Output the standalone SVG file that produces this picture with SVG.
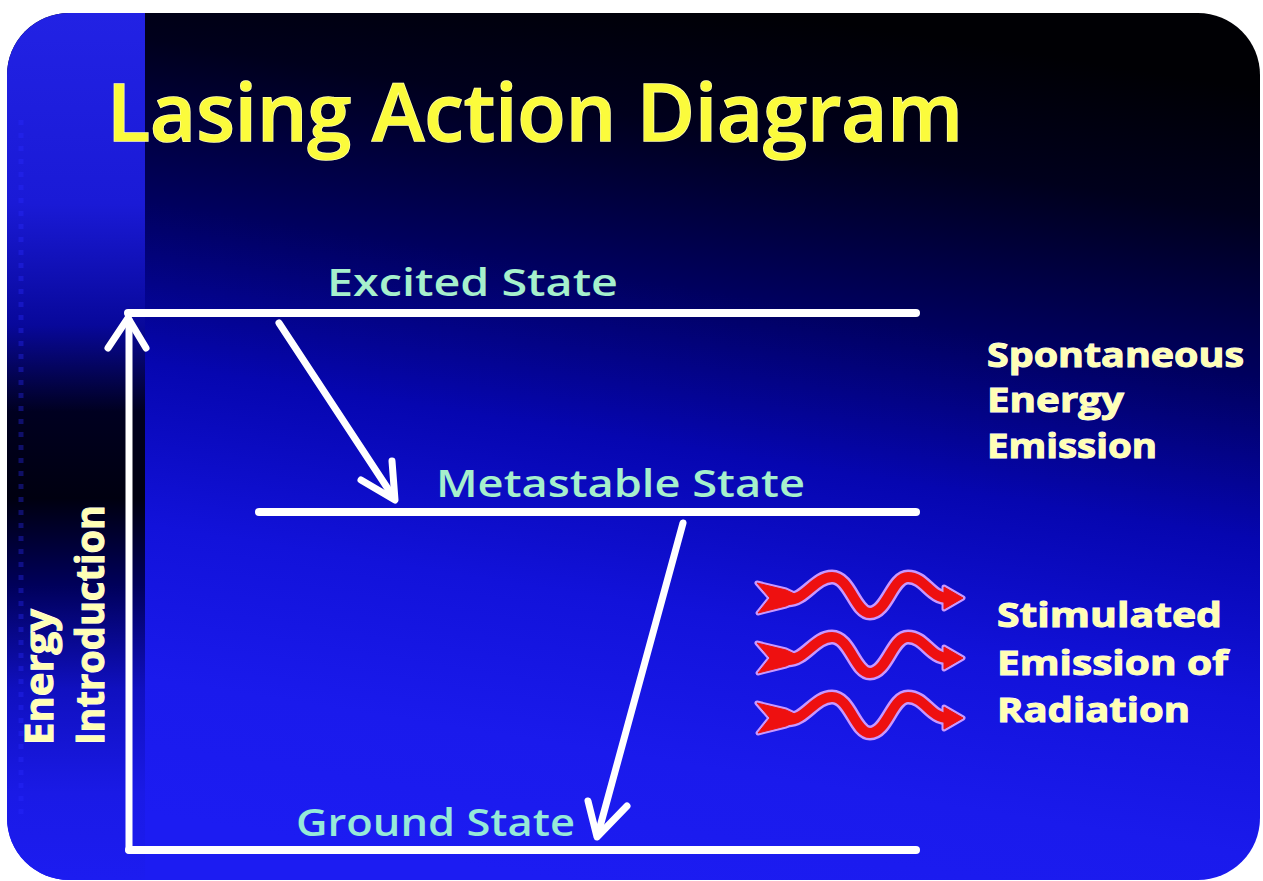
<svg xmlns="http://www.w3.org/2000/svg" width="1263" height="881" viewBox="0 0 1263 881">
  <defs>
    <clipPath id="card">
      <rect x="7" y="13" width="1253" height="867" rx="62" ry="62"/>
    </clipPath>
    <linearGradient id="mainBg" gradientUnits="userSpaceOnUse" x1="700" y1="0" x2="560" y2="880">
      <stop offset="0" stop-color="#000004"/>
      <stop offset="0.14" stop-color="#00001c"/>
      <stop offset="0.32" stop-color="#00005e"/>
      <stop offset="0.5" stop-color="#0606b0"/>
      <stop offset="0.68" stop-color="#1212da"/>
      <stop offset="0.85" stop-color="#1a1aec"/>
      <stop offset="1" stop-color="#1c1cf2"/>
    </linearGradient>
    <linearGradient id="stripBg" gradientUnits="userSpaceOnUse" x1="0" y1="13" x2="0" y2="880">
      <stop offset="0" stop-color="#2222e4"/>
      <stop offset="0.22" stop-color="#1a1ad6"/>
      <stop offset="0.36" stop-color="#08089a"/>
      <stop offset="0.46" stop-color="#000020"/>
      <stop offset="0.56" stop-color="#000010"/>
      <stop offset="0.66" stop-color="#00005a"/>
      <stop offset="0.78" stop-color="#1010c0"/>
      <stop offset="0.9" stop-color="#1a1ae6"/>
      <stop offset="1" stop-color="#1c1cf0"/>
    </linearGradient>
    <style>
      .lvl { stroke: #ffffff; stroke-width: 8; stroke-linecap: round; fill: none; }
      .arr { stroke: #ffffff; stroke-width: 7; stroke-linecap: round; stroke-linejoin: round; fill: none; }
      .title { font-family: "Comic Sans MS", "Open Sans", "DejaVu Sans", sans-serif; font-weight: 600; font-size: 80px; fill: #fbfb3c; stroke: #ffffb0; stroke-width: 1.5; paint-order: stroke; }
      .state { font-family: "Comic Sans MS", "Open Sans", "DejaVu Sans", sans-serif; font-weight: 600; font-size: 38px; fill: #a6f0cc; }
      .side { font-family: "Comic Sans MS", "Open Sans", "DejaVu Sans", sans-serif; font-weight: 700; font-size: 34px; fill: #ffffb4; stroke: #ffffff; stroke-width: 1; paint-order: stroke; }
      .wave-out { fill: none; stroke: #c898ff; stroke-width: 15; stroke-linecap: round; stroke-linejoin: round; }
      .wave-in { fill: none; stroke: #ee1010; stroke-width: 10; stroke-linecap: round; stroke-linejoin: round; }
      .head-out { fill: #c898ff; stroke: #c898ff; stroke-width: 5; stroke-linejoin: round; }
      .head-in { fill: #ee1010; stroke: #ee1010; stroke-width: 1; stroke-linejoin: round; }
    </style>
    <g id="wave">
      <path class="wave-out" d="M 788 600 C 805 600, 815 577, 832 577 C 850 577, 855 613, 870 613 C 887 613, 892 577, 908 577 C 925 577, 930 598, 948 598"/>
      <polygon class="head-out" points="757,583 786,590 803,598 786,606 758,613 770,598"/>
      <polygon class="head-out" points="944,587 963,598 944,609"/>
      <path class="wave-in" d="M 788 600 C 805 600, 815 577, 832 577 C 850 577, 855 613, 870 613 C 887 613, 892 577, 908 577 C 925 577, 930 598, 948 598"/>
      <polygon class="head-in" points="757,583 786,590 803,598 786,606 758,613 770,598"/>
      <polygon class="head-in" points="944,587 963,598 944,609"/>
    </g>
  </defs>

  <rect x="0" y="0" width="1263" height="881" fill="#ffffff"/>
  <g id="background" clip-path="url(#card)">
    <rect x="0" y="0" width="1263" height="881" fill="url(#mainBg)"/>
    <rect x="0" y="0" width="145" height="881" fill="url(#stripBg)"/>
    <line x1="21" y1="120" x2="21" y2="820" stroke="#2a2aff" stroke-opacity="0.35" stroke-width="5" stroke-dasharray="5 8"/>
  </g>

  <g id="title">
    <text class="title" x="107" y="141" textLength="856" lengthAdjust="spacingAndGlyphs">Lasing Action Diagram</text>
  </g>

  <g id="excited-state">
    <line class="lvl" x1="128" y1="313" x2="916" y2="313"/>
    <text class="state" x="327" y="296" textLength="291" lengthAdjust="spacingAndGlyphs">Excited State</text>
  </g>

  <g id="metastable-state">
    <line class="lvl" x1="259" y1="512" x2="916" y2="512"/>
    <text class="state" x="436" y="497" textLength="369" lengthAdjust="spacingAndGlyphs">Metastable State</text>
  </g>

  <g id="ground-state">
    <line class="lvl" x1="129" y1="850" x2="916" y2="850"/>
    <text class="state" x="296" y="836" textLength="279" lengthAdjust="spacingAndGlyphs" style="fill:#96ead8">Ground State</text>
  </g>

  <g id="energy-introduction">
    <text class="side" transform="translate(53,745) rotate(-90)" x="0" y="0" textLength="136" lengthAdjust="spacingAndGlyphs" style="font-size:40px">Energy</text>
    <text class="side" transform="translate(104,745) rotate(-90)" x="0" y="0" textLength="240" lengthAdjust="spacingAndGlyphs" style="font-size:40px">Introduction</text>
  </g>

  <g id="spontaneous-emission">
    <text class="side" x="987" y="367" textLength="257" lengthAdjust="spacingAndGlyphs">Spontaneous</text>
    <text class="side" x="987" y="412" textLength="137" lengthAdjust="spacingAndGlyphs">Energy</text>
    <text class="side" x="987" y="458" textLength="170" lengthAdjust="spacingAndGlyphs">Emission</text>
  </g>

  <g id="stimulated-emission">
    <use href="#wave"/>
    <use href="#wave" transform="translate(0,60)"/>
    <use href="#wave" transform="translate(0,120)"/>
    <text class="side" x="997" y="627" textLength="225" lengthAdjust="spacingAndGlyphs">Stimulated</text>
    <text class="side" x="997" y="675" textLength="231" lengthAdjust="spacingAndGlyphs">Emission of</text>
    <text class="side" x="997" y="722" textLength="193" lengthAdjust="spacingAndGlyphs">Radiation</text>
  </g>

  <g id="connectors">
    <path class="arr" d="M 129 850 L 129 320"/>
    <path class="arr" d="M 108 348 L 128 318 L 146 348"/>
    <path class="arr" d="M 279 323 L 394 498"/>
    <path class="arr" d="M 361 480 L 395 500 L 392 461"/>
    <path class="arr" d="M 683 523 L 598 834"/>
    <path class="arr" d="M 588 801 L 597 837 L 627 806"/>
  </g>
</svg>
